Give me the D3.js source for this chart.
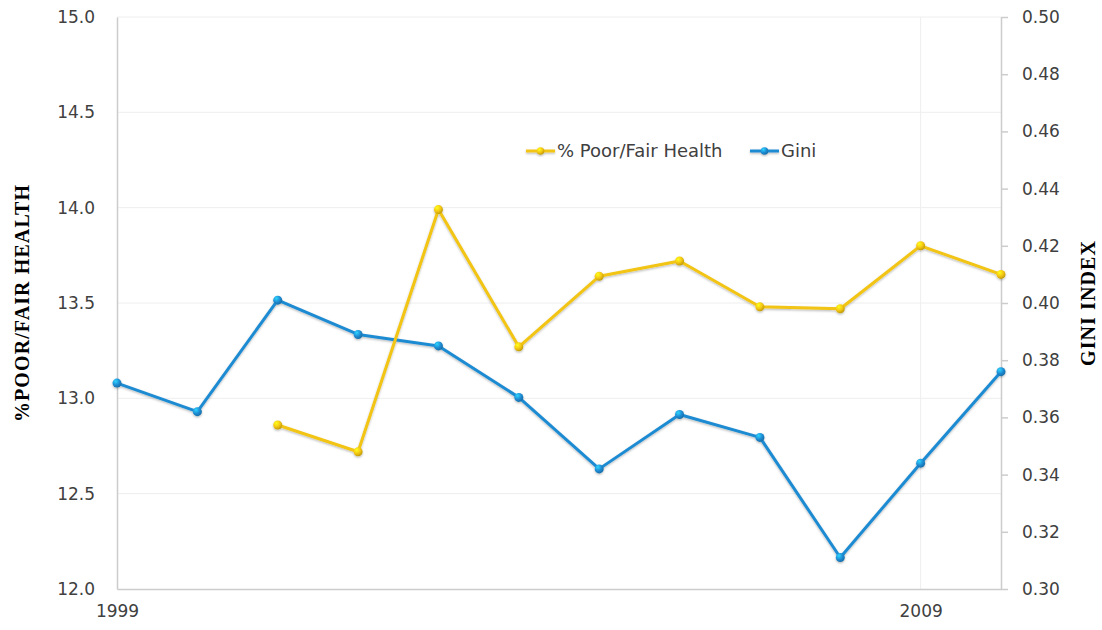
<!DOCTYPE html>
<html><head><meta charset="utf-8">
<script src="https://cdn.jsdelivr.net/npm/d3@7"></script>
<style>
html,body{margin:0;padding:0;background:#fff;}
svg{display:block;}
</style></head>
<body>
<svg id="chart" width="1102" height="630"></svg>
<script>
const years = [1999,2000,2001,2002,2003,2004,2005,2006,2007,2008,2009,2010];
const poorFairHealth = [null,null,12.86,12.72,13.99,13.27,13.64,13.72,13.48,13.47,13.80,13.65];
const gini = [0.372,0.362,0.401,0.389,0.385,0.367,0.342,0.361,0.353,0.311,0.344,0.376];
const xTickValues = [1999,2009];
const leftTicks = [12.0,12.5,13.0,13.5,14.0,14.5,15.0];
const rightTicks = [0.30,0.32,0.34,0.36,0.38,0.40,0.42,0.44,0.46,0.48,0.50];
const seriesNames = ["% Poor/Fair Health","Gini"];
const leftTitle = "%POOR/FAIR HEALTH";
const rightTitle = "GINI INDEX";

const yellow = "#F2C412", blue = "#1E8BD2";
const svg = d3.select("#chart");
const L = 117, R = 1001, T = 17, B = 589;
const x = d3.scaleLinear().domain([1999,2010]).range([L,R]);
const yL = d3.scaleLinear().domain([12,15]).range([B,T]);
const yR = d3.scaleLinear().domain([0.30,0.50]).range([B,T]);

const defs = svg.append("defs");
function grad(id,c){
  const g = defs.append("radialGradient").attr("id",id).attr("cx","35%").attr("cy","30%").attr("r","70%");
  g.append("stop").attr("offset","0%").attr("stop-color",d3.color(c).brighter(1.2));
  g.append("stop").attr("offset","60%").attr("stop-color",c);
  g.append("stop").attr("offset","100%").attr("stop-color",d3.color(c).darker(0.6));
}
grad("gy",yellow); grad("gb",blue);
const f = defs.append("filter").attr("id","sh").attr("x","-10%").attr("y","-10%").attr("width","120%").attr("height","130%");
f.append("feDropShadow").attr("dx",0).attr("dy",1.2).attr("stdDeviation",0.9).attr("flood-color","#000").attr("flood-opacity",0.28);

// gridlines
svg.append("g").selectAll("line").data(leftTicks.slice(1)).join("line")
  .attr("x1",L).attr("x2",R).attr("y1",d=>yL(d)).attr("y2",d=>yL(d))
  .attr("stroke","#eeeeee").attr("stroke-width",1);
svg.append("g").selectAll("line").data(xTickValues.slice(1)).join("line")
  .attr("x1",d=>x(d)).attr("x2",d=>x(d)).attr("y1",T).attr("y2",B)
  .attr("stroke","#eeeeee").attr("stroke-width",1);

const font = "'DejaVu Sans', sans-serif";
// left axis
const gl = svg.append("g").attr("transform",`translate(${L},0)`)
  .call(d3.axisLeft(yL).tickValues(leftTicks).tickFormat(d3.format(".1f")).tickSize(0).tickPadding(22));
gl.select(".domain").attr("stroke","#cccccc").attr("stroke-width",1.5);
gl.selectAll("text").attr("font-family",font).attr("font-size",17).attr("fill","#404040");
// right axis
const gr = svg.append("g").attr("transform",`translate(${R},0)`)
  .call(d3.axisRight(yR).tickValues(rightTicks).tickFormat(d3.format(".2f")).tickSizeInner(7).tickSizeOuter(0).tickPadding(14));
gr.select(".domain").attr("stroke","#cccccc").attr("stroke-width",1.5);
gr.selectAll(".tick line").attr("stroke","#cccccc").attr("stroke-width",1.5);
gr.selectAll("text").attr("font-family",font).attr("font-size",17).attr("fill","#404040");
// bottom axis
const gb = svg.append("g").attr("transform",`translate(0,${B})`)
  .call(d3.axisBottom(x).tickValues(xTickValues).tickFormat(d3.format("d")).tickSize(0).tickPadding(16));
gb.select(".domain").attr("stroke","#cccccc").attr("stroke-width",1.5);
gb.selectAll("text").attr("font-family",font).attr("font-size",17).attr("fill","#404040");

// titles
const tFont = "'Liberation Serif', 'Times New Roman', serif";
svg.append("text").attr("transform",`translate(29,${(T+B)/2}) rotate(-90)`)
  .attr("text-anchor","middle").attr("font-family",tFont).attr("font-weight","bold")
  .attr("font-size",20).attr("letter-spacing",1.1).attr("fill","#000").text(leftTitle);
svg.append("text").attr("transform",`translate(1095,${(T+B)/2}) rotate(-90)`)
  .attr("text-anchor","middle").attr("font-family",tFont).attr("font-weight","bold")
  .attr("font-size",20).attr("letter-spacing",1.1).attr("fill","#000").text(rightTitle);

// series
const hData = years.map((yr,i)=>({yr,v:poorFairHealth[i]}));
const gData = years.map((yr,i)=>({yr,v:gini[i]}));
const lineH = d3.line().defined(d=>d.v!=null).x(d=>x(d.yr)).y(d=>yL(d.v));
const lineG = d3.line().x(d=>x(d.yr)).y(d=>yR(d.v));

const gS = svg.append("g").attr("filter","url(#sh)");
gS.append("path").datum(gData).attr("d",lineG).attr("fill","none").attr("stroke",blue).attr("stroke-width",3).attr("stroke-linejoin","round");
gS.selectAll(".mb").data(gData).join("circle").attr("class","mb")
  .attr("cx",d=>x(d.yr)).attr("cy",d=>yR(d.v)).attr("r",4.5).attr("fill","url(#gb)");
gS.append("path").datum(hData).attr("d",lineH).attr("fill","none").attr("stroke",yellow).attr("stroke-width",3).attr("stroke-linejoin","round");
gS.selectAll(".my").data(hData.filter(d=>d.v!=null)).join("circle").attr("class","my")
  .attr("cx",d=>x(d.yr)).attr("cy",d=>yL(d.v)).attr("r",4.5).attr("fill","url(#gy)");

// legend
const legend = [{name:seriesNames[0],c:yellow,g:"url(#gy)",x0:526},{name:seriesNames[1],c:blue,g:"url(#gb)",x0:750}];
const lg = svg.append("g").attr("filter","url(#sh)");
legend.forEach(d=>{
  lg.append("line").attr("x1",d.x0).attr("x2",d.x0+29).attr("y1",151).attr("y2",151).attr("stroke",d.c).attr("stroke-width",3);
  lg.append("circle").attr("cx",d.x0+14.5).attr("cy",151).attr("r",3.8).attr("fill",d.g);
});
legend.forEach(d=>{
  svg.append("text").attr("x",d.x0+31).attr("y",151).attr("dy","0.35em")
    .attr("font-family",font).attr("font-size",18).attr("fill","#404040").text(d.name);
});
</script>
</body></html>
